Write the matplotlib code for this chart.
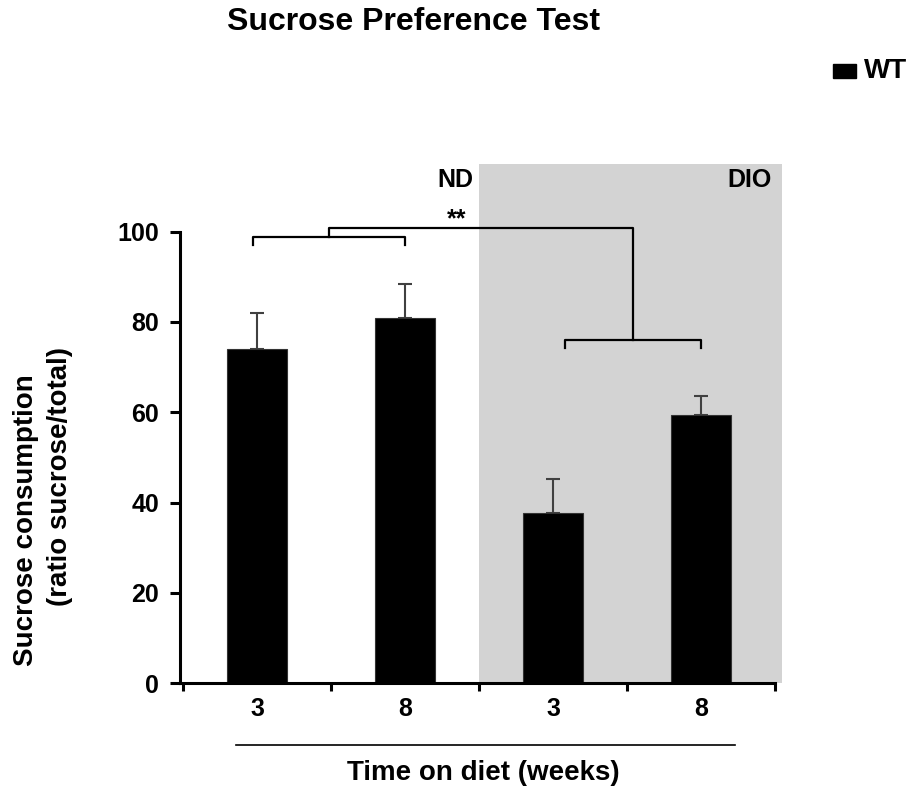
import numpy as np
import matplotlib.pyplot as plt
from matplotlib.patches import Rectangle

plt.rcParams['font.family'] = ['Liberation Sans', 'DejaVu Sans']
plt.rcParams['font.weight'] = 'bold'

# --- données ---
groups = ['ND', 'ND', 'DIO', 'DIO']
weeks = ['3', '8', '3', '8']
means = [74.0, 80.8, 37.6, 59.3]
sem = [7.9, 7.7, 7.5, 4.4]

x = np.arange(len(means))

fig = plt.figure(figsize=(9.14, 7.89), dpi=100)
ax = fig.add_axes([0.197, 0.1343, 0.659, 0.6578])

# zone DIO en gris
ax.axvspan(1.5, 3.55, color='#d3d3d3', zorder=0, lw=0)

ax.bar(x, means, width=0.4, color='black', edgecolor='#333333', lw=0.8, zorder=2)
ax.errorbar(x, means, yerr=[np.zeros(len(sem)), sem], fmt='none',
            ecolor='#404040', elinewidth=1.5, capsize=5, capthick=1.5, zorder=1)

ax.set_xlim(-0.52, 3.55)
ax.set_ylim(0, 115)

# axes
for s in ['top', 'right']:
    ax.spines[s].set_visible(False)
ax.spines['left'].set_linewidth(2.2)
ax.spines['bottom'].set_linewidth(2.2)
ax.spines['left'].set_bounds(0, 100)
ax.spines['bottom'].set_bounds(-0.52, 3.5)

ax.set_yticks(np.arange(0, 101, 20))
ax.tick_params(axis='y', direction='out', length=7, width=2.2, labelsize=18, pad=8)
ax.set_xticks([-0.5, 0.5, 1.5, 2.5, 3.5])
ax.set_xticklabels([])
ax.set_xticks(x, minor=True)
ax.set_xticklabels(weeks, minor=True)
ax.tick_params(axis='x', which='major', direction='out', length=6, width=2.2)
ax.tick_params(axis='x', which='minor', length=0, labelsize=18, pad=10)
for lab in ax.get_yticklabels() + ax.get_xticklabels(minor=True):
    lab.set_fontweight('bold')

# titre de l'axe y sur deux lignes
fig.text(26 / 914, 1 - 520 / 789, 'Sucrose consumption', rotation=90,
         ha='center', va='center', fontsize=20, fontweight='bold')
fig.text(60 / 914, 1 - 477 / 789, '(ratio sucrose/total)', rotation=90,
         ha='center', va='center', fontsize=20, fontweight='bold')

# crochets de significativité
lw = 1.6
kw = dict(color='black', lw=lw, clip_on=False, zorder=3)
l0, l1 = x[0] - 0.03, x[1]
ax.plot([l0, l0, l1, l1], [97.1, 98.9, 98.9, 97.1], **kw)
r0, r1 = x[2] + 0.08, x[3]
ax.plot([r0, r0, r1, r1], [74.3, 75.9, 75.9, 74.3], **kw)
lm, rm = (l0 + l1) / 2, (r0 + r1) / 2
ax.plot([lm, lm, rm, rm], [98.9, 100.9, 100.9, 75.9], **kw)
ax.text(1.35, 100.0, '**', ha='center', va='bottom', fontsize=18, fontweight='bold')

# étiquettes des groupes
ax.text(1.46, 111.5, 'ND', ha='right', va='center', fontsize=18, fontweight='bold')
ax.text(3.48, 111.5, 'DIO', ha='right', va='center', fontsize=18, fontweight='bold')

# ligne sous les semaines et titre de l'axe x
ax.plot([-0.145, 3.23], [-13.7, -13.7], color='black', lw=1.2, clip_on=False)
fig.text(0.529, 0.02, 'Time on diet (weeks)', ha='center', va='center',
         fontsize=20, fontweight='bold')

fig.text(0.452, 0.972, 'Sucrose Preference Test', ha='center', va='center',
         fontsize=23, fontweight='bold')

# légende
fig.add_artist(Rectangle((833 / 914, 1 - 78 / 789), 23 / 914, 14 / 789,
                         transform=fig.transFigure, color='black'))
fig.text(864 / 914, 1 - 71 / 789, 'WT', ha='left', va='center',
         fontsize=20, fontweight='bold')

plt.savefig('out.png', dpi=100)
